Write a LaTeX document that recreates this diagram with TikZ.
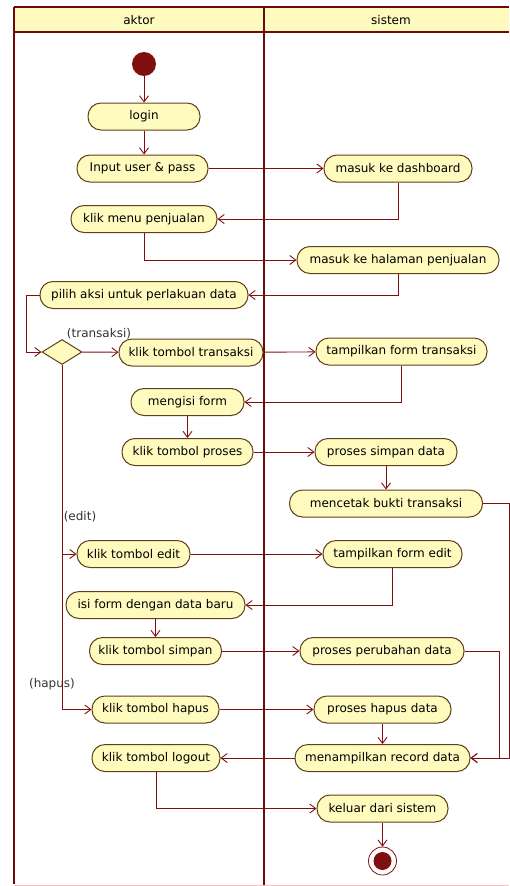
\documentclass[tikz,border=0pt]{standalone}
\usepackage{fontspec}
\setmainfont{DejaVu Sans}
\usetikzlibrary{arrows.meta, shapes.geometric}
\definecolor{actfill}{RGB}{255,250,190}
\definecolor{actline}{RGB}{95,65,25}
\definecolor{flowred}{RGB}{128,16,16}
\definecolor{lanered}{RGB}{110,10,10}

\begin{document}
\begin{tikzpicture}[x=1pt, y=-1pt,
    act/.style={draw=actline, line width=1pt, fill=actfill, rounded corners=13pt, minimum height=27pt,
      inner xsep=6pt, font=\fontsize{12}{14}\selectfont},
    flow/.style={draw=flowred, line width=0.9pt, -{Straight Barb[length=6pt,width=9pt]}},
    guard/.style={font=\fontsize{12}{14}\selectfont, text=black!80, inner sep=0pt},
    lanelbl/.style={font=\fontsize{12}{14}\selectfont}]
    \useasboundingbox (0,0) rectangle (509,886);
    % swimlanes
    \fill[actfill] (14,7) rectangle (509,32);
    \draw[lanered, line width=2pt] (14,7) -- (509,7) (14,32) -- (509,32);
    \draw[lanered, line width=2pt] (14,7) -- (14,884) (264,7) -- (264,886);
    \draw[red!25, line width=1pt] (14,885) -- (509,885);
    \node[lanelbl] (aktor) at (139,20) {aktor};
    \node[lanelbl] (sistem) at (391,20) {sistem};
    % aktor
    \node[circle, fill=flowred, minimum size=24pt, inner sep=0pt] (start) at (144,64) {};
    \node[act, minimum width=112pt] (login) at (144,116.5) {login};
    \node[act, minimum width=131pt] (input) at (142.5,168.5) {Input user \& pass};
    \node[act, minimum width=146pt] (menu) at (144,219) {klik menu penjualan};
    \node[act, minimum width=208pt] (pilih) at (144,295) {pilih aksi untuk perlakuan data};
    \node[diamond, draw=actline, line width=1pt, fill=actfill, minimum width=40pt, minimum height=25pt,
      inner sep=0pt] (dec) at (62,352) {};
    \node[act, minimum width=144pt] (trans) at (191,352.5) {klik tombol transaksi};
    \node[act, minimum width=113pt] (isi) at (187.5,402) {mengisi form};
    \node[act, minimum width=131pt] (proses) at (187.5,452) {klik tombol proses};
    \node[act, minimum width=113pt] (edit) at (133.5,554) {klik tombol edit};
    \node[act, minimum width=179pt] (isibaru) at (155.5,605) {isi form dengan data baru};
    \node[act, minimum width=132pt] (simpanbtn) at (155.5,651) {klik tombol simpan};
    \node[act, minimum width=127pt] (hapus) at (155.5,709.5) {klik tombol hapus};
    \node[act, minimum width=128pt] (logout) at (156,758) {klik tombol logout};
    % sistem
    \node[act, minimum width=148pt] (dash) at (398,168.5) {masuk ke dashboard};
    \node[act, minimum width=202pt] (halaman) at (398,260) {masuk ke halaman penjualan};
    \node[act, minimum width=171pt] (tform) at (401.5,351.5) {tampilkan form transaksi};
    \node[act, minimum width=142pt] (simpan) at (386,452) {proses simpan data};
    \node[act, minimum width=193pt] (cetak) at (386,503.5) {mencetak bukti transaksi};
    \node[act, minimum width=139pt] (eform) at (392.5,554) {tampilkan form edit};
    \node[act, minimum width=164pt] (ubah) at (382,651) {proses perubahan data};
    \node[act, minimum width=137pt] (hapusdata) at (382.5,709.5) {proses hapus data};
    \node[act, minimum width=175pt] (record) at (382.5,758) {menampilkan record data};
    \node[act, minimum width=131pt] (keluar) at (382.5,808.5) {keluar dari sistem};
    \node[circle, draw=flowred, line width=0.8pt, minimum size=28pt, inner sep=0pt] (end) at (382.5,861) {};
    \node[circle, fill=flowred, minimum size=18pt, inner sep=0pt] (endin) at (end) {};
    % guards
    \node[guard] (gtrans) at (99,334) {(transaksi)};
    \node[guard] (gedit) at (80,517) {(edit)};
    \node[guard] (ghapus) at (52,684) {(hapus)};
    % flows
    \draw[flow] (start) -- (login);
    \draw[flow] (login) -- (login |- input.north);
    \draw[flow] (input) -- (dash);
    \draw[flow] (dash) |- (menu);
    \draw[flow] (menu) |- (halaman);
    \draw[flow] (halaman) |- (pilih);
    \draw[flow] (pilih.west) -- ++(-13,0) |- (dec.west);
    \draw[flow] (dec) -- (trans);
    \draw[flow] (trans) -- (tform);
    \draw[flow] (tform) |- (isi);
    \draw[flow] (isi) -- (isi |- proses.north);
    \draw[flow] (proses) -- (simpan);
    \draw[flow] (simpan) -- (simpan |- cetak.north);
    \draw[flow] (dec.south) |- (edit);
    \draw[flow] (dec.south) |- (hapus);
    \draw[flow] (edit) -- (eform);
    \draw[flow] (eform) |- (isibaru);
    \draw[flow] (isibaru) -- (isibaru |- simpanbtn.north);
    \draw[flow] (simpanbtn) -- (ubah);
    \draw[flow] (hapus) -- (hapusdata);
    \draw[flow] (hapusdata) -- (hapusdata |- record.north);
    \draw[flow] (cetak.east) -- ++(26,0) |- (record.east);
    \draw[flow] (ubah.east) -- ++(35,0) |- (record.east);
    \draw[flow] (record) -- (logout);
    \draw[flow] (logout.south) |- (keluar.west);
    \draw[flow] (keluar) -- (end);
\end{tikzpicture}
\end{document}
